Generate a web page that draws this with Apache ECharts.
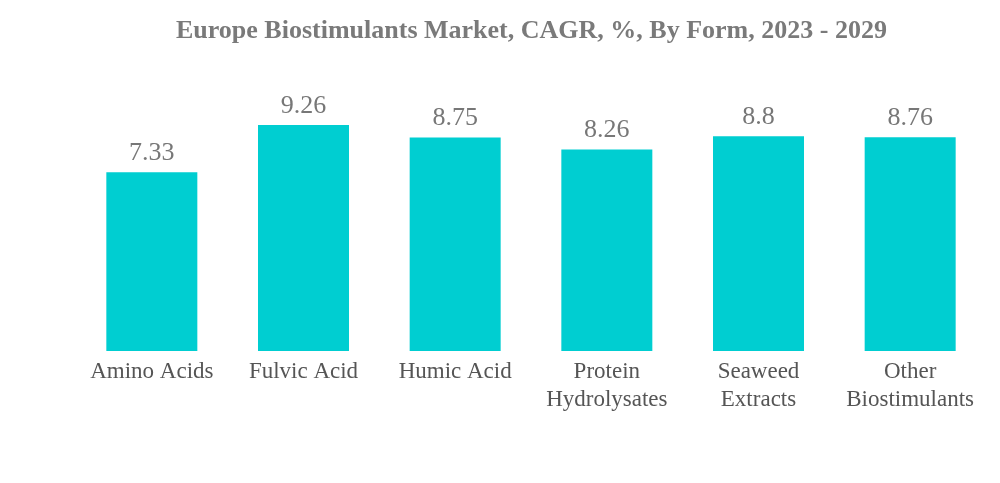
<!DOCTYPE html>
<html><head><meta charset="utf-8">
<script src="https://cdn.jsdelivr.net/npm/echarts@6/dist/echarts.min.js"></script>
<style>html,body{margin:0;padding:0;background:#fff}#c{width:1000px;height:483px}</style>
</head><body><div id="c"></div>
<script>
const categories = ['Amino Acids', 'Fulvic Acid', 'Humic Acid', 'Protein\nHydrolysates', 'Seaweed\nExtracts', 'Other\nBiostimulants'];
const values = [7.33, 9.26, 8.75, 8.26, 8.8, 8.76];
const titleText = 'Europe Biostimulants Market, CAGR, %, By Form, 2023 - 2029';

const chart = echarts.init(document.getElementById('c'));
chart.setOption({
  animation: false,
  backgroundColor: '#fff',
  title: {
    text: titleText, left: 171, top: 13,
    textStyle: { fontFamily: 'Liberation Serif', fontWeight: 'bold', fontSize: 26, color: '#7a7a7a' }
  },
  grid: { left: 76, right: 14, top: 107, bottom: 132 },
  xAxis: {
    type: 'category', data: categories,
    axisLine: { show: false }, axisTick: { show: false },
    axisLabel: { fontFamily: 'Liberation Serif', fontSize: 23, color: '#555', lineHeight: 28, margin: 7, interval: 0 }
  },
  yAxis: { type: 'value', min: 0, max: 10, show: false, splitLine: { show: false } },
  series: [{
    type: 'bar', data: values, barWidth: '60%',
    itemStyle: { color: '#00CED1' },
    label: { show: true, position: 'top', distance: 6, fontFamily: 'Liberation Serif', fontSize: 26, color: '#777' }
  }]
});
</script></body></html>
